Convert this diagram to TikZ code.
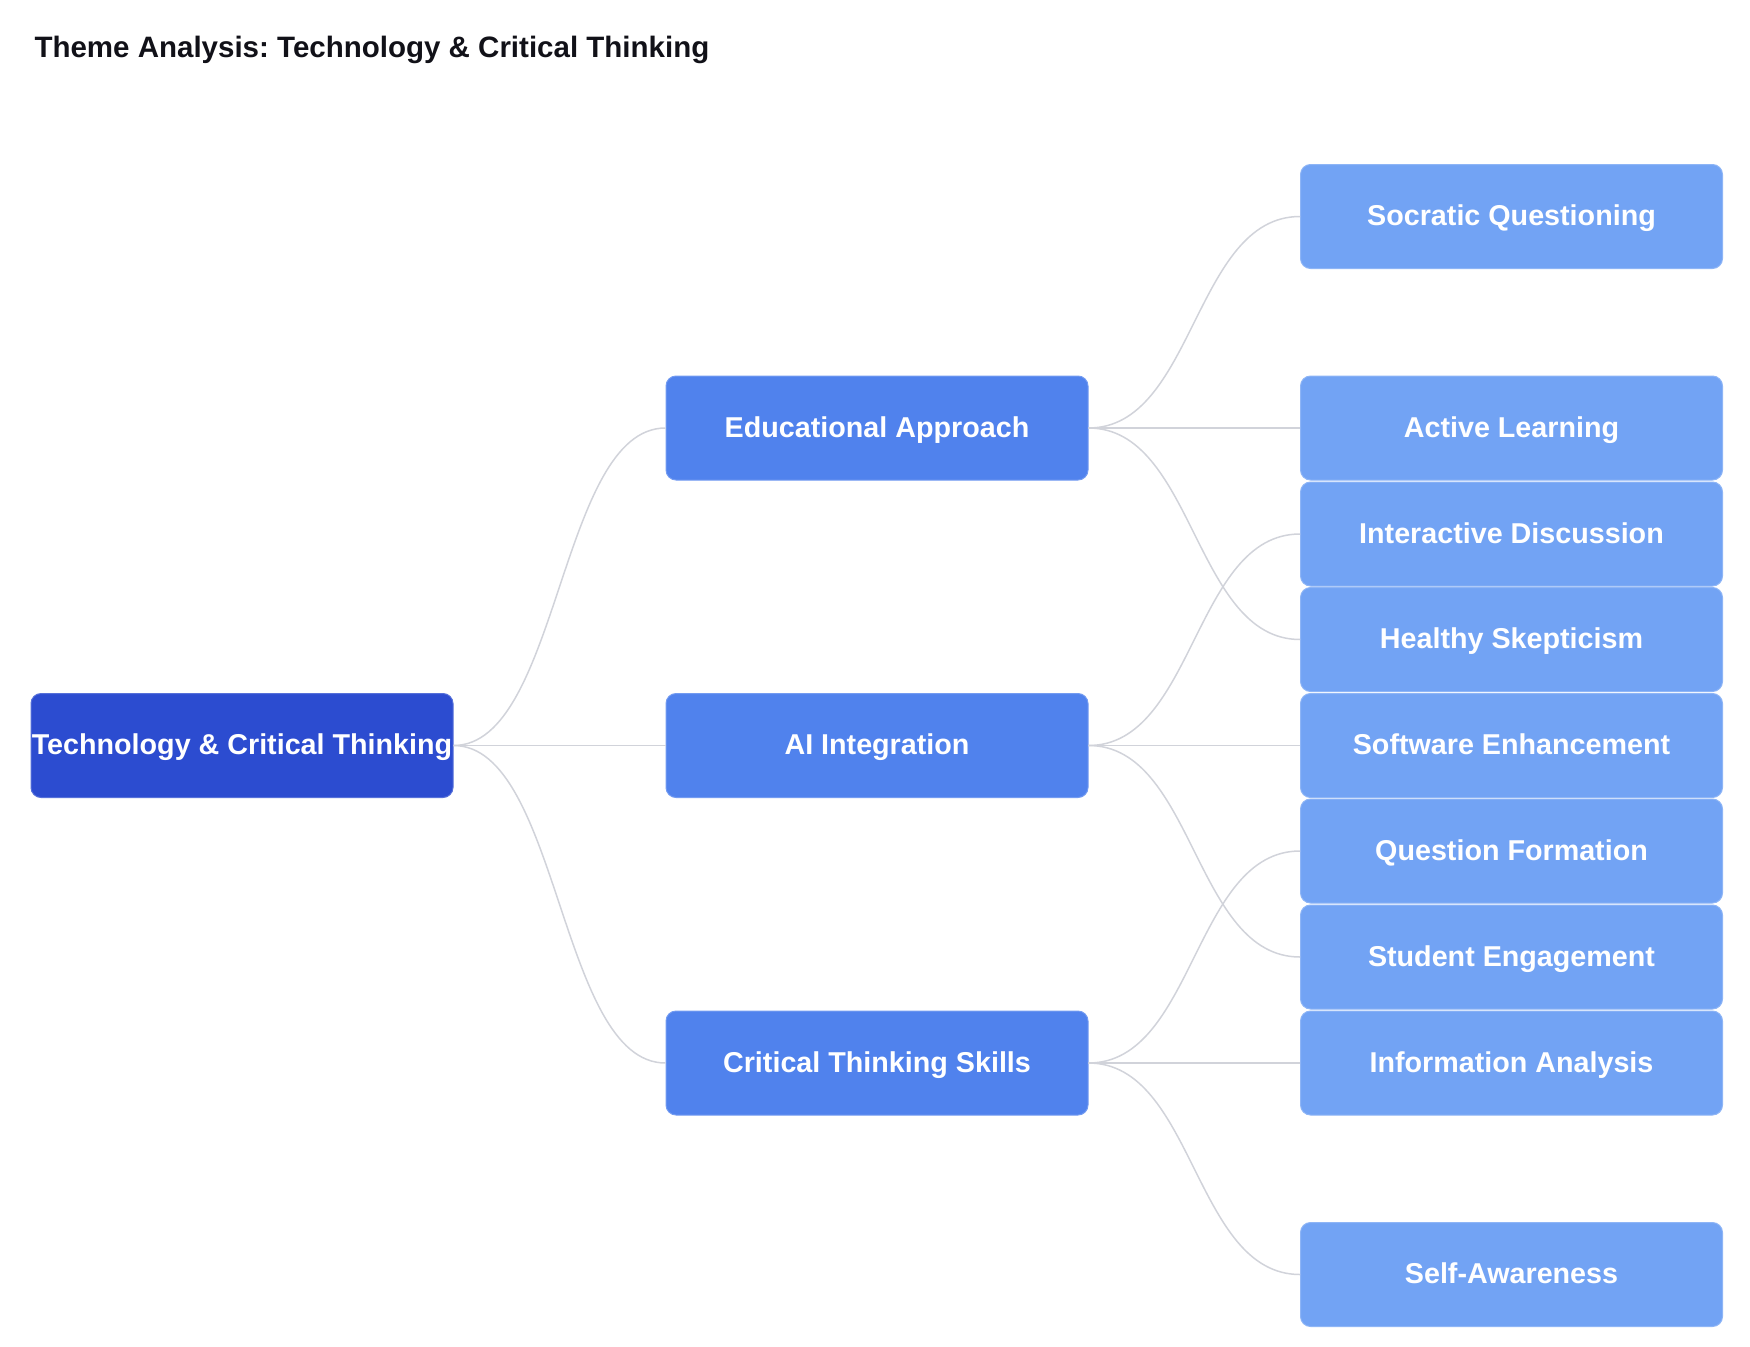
\documentclass[tikz,border=0pt]{standalone}
\usepackage{fontspec}
\setmainfont{Liberation Sans}
\usepackage{tikz}
\usetikzlibrary{positioning}
\definecolor{thmroot}{RGB}{44,76,208}
\definecolor{thmmid}{RGB}{80,130,237}
\definecolor{thmleaf}{RGB}{114,163,244}
\definecolor{thmlink}{RGB}{209,211,218}
\definecolor{thmtitle}{RGB}{17,17,24}
\frenchspacing

\begin{document}
\begin{tikzpicture}[
  x=1pt,y=-1pt,
  every node/.style={font=\bfseries\fontsize{28.7}{34}\selectfont},
  box/.style={rounded corners=10,minimum width=422,minimum height=104,inner xsep=0,text=white,align=center,text depth=0.25em},
  root/.style={box,fill=thmroot,draw=thmroot!80!white,line width=1},
  mid/.style={box,fill=thmmid,draw=thmmid!80!white,line width=1},
  leaf/.style={box,fill=thmleaf,draw=thmleaf!80!white,line width=1},
  link/.style={thmlink,line width=1.5}
]
\useasboundingbox (0,0) rectangle (1750,1346);

\node[anchor=west,text=thmtitle,font=\bfseries\fontsize{29.5}{34}\selectfont] (title) at (31,50) {Theme Analysis: Technology \& Critical Thinking};

% Root and branches
\node[root] (tech) at (242,745.5) {Technology \& Critical Thinking};
\node[mid] (edu) at (877,428) {Educational Approach};
\node[mid] (ai) at (877,745.5) {AI Integration};
\node[mid] (cts) at (877,1063) {Critical Thinking Skills};

% Leaves
\node[leaf] (soc) at (1511.5,216.5) {Socratic Questioning};
\node[leaf] (act) at (1511.5,428) {Active Learning};
\node[leaf] (inter) at (1511.5,534) {Interactive Discussion};
\node[leaf] (skep) at (1511.5,639.5) {Healthy Skepticism};
\node[leaf] (soft) at (1511.5,745.5) {Software Enhancement};
\node[leaf] (qf) at (1511.5,851) {Question Formation};
\node[leaf] (stud) at (1511.5,957) {Student Engagement};
\node[leaf] (info) at (1511.5,1063) {Information Analysis};
\node[leaf] (self) at (1511.5,1274.5) {Self-Awareness};

% Links
\draw[link] (tech.east) .. controls +(106,0) and +(-106,0) .. (edu.west);
\draw[link] (tech.east) .. controls +(106,0) and +(-106,0) .. (ai.west);
\draw[link] (tech.east) .. controls +(106,0) and +(-106,0) .. (cts.west);

\draw[link] (edu.east) .. controls +(106,0) and +(-106,0) .. (soc.west);
\draw[link] (edu.east) .. controls +(106,0) and +(-106,0) .. (act.west);
\draw[link] (edu.east) .. controls +(106,0) and +(-106,0) .. (skep.west);

\draw[link] (ai.east) .. controls +(106,0) and +(-106,0) .. (inter.west);
\draw[link] (ai.east) .. controls +(106,0) and +(-106,0) .. (soft.west);
\draw[link] (ai.east) .. controls +(106,0) and +(-106,0) .. (stud.west);

\draw[link] (cts.east) .. controls +(106,0) and +(-106,0) .. (qf.west);
\draw[link] (cts.east) .. controls +(106,0) and +(-106,0) .. (info.west);
\draw[link] (cts.east) .. controls +(106,0) and +(-106,0) .. (self.west);
\end{tikzpicture}
\end{document}
